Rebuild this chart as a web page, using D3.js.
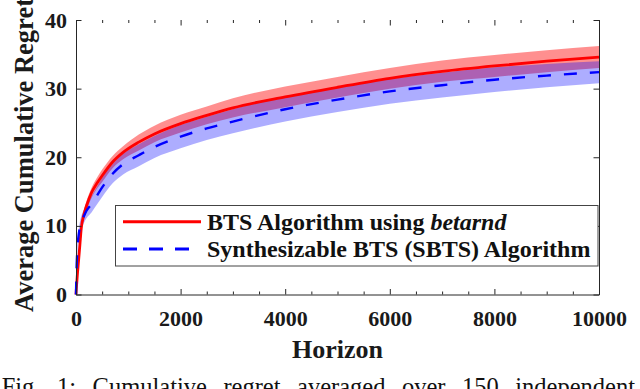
<!DOCTYPE html>
<html>
<head>
<meta charset="utf-8">
<script src="https://cdn.jsdelivr.net/npm/d3@7/dist/d3.min.js"></script>
<style>
  html, body { margin: 0; padding: 0; background: #fff; }
  svg { display: block; }
  text { font-family: "Liberation Serif", "Times New Roman", serif; }
</style>
</head>
<body>
<svg id="chart" width="640" height="389"></svg>
<script>
// ---------- data ----------
const horizon = [0, 10, 25, 50, 75, 100, 150, 200, 300, 400, 500, 700, 900, 1200, 1500, 2000, 2500, 3000, 4000, 5000, 6000, 7000, 8000, 9000, 10000];

const btsMean = [0, 1.2, 2.8, 5.0, 7.3, 9.6, 11.6, 12.9, 14.9, 16.2, 17.3, 19.3, 20.7, 22.2, 23.4, 24.9, 26.1, 27.2, 28.8, 30.2, 31.5, 32.5, 33.3, 34.0, 34.6];
const btsHi   = [0, 1.5, 3.2, 5.5, 7.9, 10.2, 12.3, 13.6, 15.6, 17.0, 18.2, 20.2, 21.6, 23.3, 24.6, 26.2, 27.4, 28.6, 30.3, 31.7, 33.0, 34.1, 34.9, 35.6, 36.2];
const btsLo   = [0, 0.9, 2.4, 4.5, 6.7, 9.0, 10.9, 12.2, 14.1, 15.4, 16.4, 18.4, 19.7, 21.0, 22.2, 23.6, 24.8, 25.8, 27.3, 28.7, 30.0, 31.0, 31.7, 32.4, 33.0];

const sbtsMean = [0, 3.5, 6.5, 8.6, 9.8, 10.5, 11.4, 12.2, 13.2, 14.4, 15.6, 17.6, 19.0, 20.3, 21.5, 23.0, 24.2, 25.2, 27.0, 28.4, 29.6, 30.5, 31.3, 31.9, 32.4];
const sbtsHi   = [0, 4.2, 7.3, 9.4, 10.6, 11.4, 12.4, 13.3, 14.4, 15.7, 17.0, 19.0, 20.5, 21.9, 23.1, 24.7, 25.9, 27.0, 28.8, 30.2, 31.4, 32.3, 33.1, 33.6, 34.0];
const sbtsLo   = [0, 2.8, 5.7, 7.8, 9.0, 9.6, 10.4, 11.1, 12.0, 13.1, 14.2, 16.2, 17.5, 18.7, 19.9, 21.3, 22.5, 23.5, 25.2, 26.6, 27.8, 28.7, 29.5, 30.2, 30.8];

const xTicks = [0, 2000, 4000, 6000, 8000, 10000];
const xMinorTicks = [0, 500, 1000, 1500, 2000, 2500, 3000, 3500, 4000, 4500, 5000, 5500, 6000, 6500, 7000, 7500, 8000, 8500, 9000, 9500, 10000];
const yTicks = [0, 10, 20, 30, 40];

const xLabel = "Horizon";
const yLabel = "Average Cumulative Regret";
const legendLabels = [["BTS Algorithm using ", "betarnd"], ["Synthesizable BTS (SBTS) Algorithm", ""]];
const captionWords = ["Fig.", "1:", "Cumulative", "regret", "averaged", "over", "150", "independent"];

// ---------- layout ----------
const svg = d3.select("#chart");
const x = d3.scaleLinear().domain([0, 10000]).range([76, 599]);
const y = d3.scaleLinear().domain([0, 40]).range([294.5, 20]);
const axisColor = "#262626";

const toRows = (m, lo, hi) => horizon.map((h, i) => ({ h, m: m[i], lo: lo[i], hi: hi[i] }));
const bts = toRows(btsMean, btsLo, btsHi);
const sbts = toRows(sbtsMean, sbtsLo, sbtsHi);

const area = d3.area().x(d => x(d.h)).y0(d => y(d.lo)).y1(d => y(d.hi)).curve(d3.curveMonotoneX);
const line = d3.line().x(d => x(d.h)).y(d => y(d.m)).curve(d3.curveMonotoneX);

// bands
svg.append("path").datum(bts).attr("d", area).attr("fill", "#ff0000").attr("fill-opacity", 0.44);
svg.append("path").datum(sbts).attr("d", area).attr("fill", "#0000ff").attr("fill-opacity", 0.32);
// lines
svg.append("path").datum(bts).attr("d", line).attr("fill", "none").attr("stroke", "#ff0000").attr("stroke-width", 2.8);
svg.append("path").datum(sbts).attr("d", line).attr("fill", "none").attr("stroke", "#0000ff").attr("stroke-width", 2.4).attr("stroke-dasharray", "13,13");

// axes
function styleAxis(g) {
  g.selectAll("path.domain").attr("stroke", axisColor).attr("stroke-width", 1);
  g.selectAll(".tick line").attr("stroke", axisColor).attr("stroke-width", 1);
  g.selectAll("text").attr("font-family", "Liberation Serif, serif").attr("font-weight", "bold").attr("font-size", 22).attr("fill", "#1a1a1a");
}
const minorOnly = xMinorTicks.filter(v => !xTicks.includes(v));
// bottom major (labels)
const gB = svg.append("g").attr("transform", `translate(0,${y(0)})`)
  .call(d3.axisBottom(x).tickValues(xTicks).tickSizeInner(-5.5).tickSizeOuter(0).tickPadding(16).tickFormat(d3.format("d")));
styleAxis(gB);
// bottom minor
const gBm = svg.append("g").attr("transform", `translate(0,${y(0)})`)
  .call(d3.axisBottom(x).tickValues(minorOnly).tickSizeInner(-3).tickSizeOuter(0).tickFormat(""));
styleAxis(gBm); gBm.select("path.domain").remove();
// top ticks (no line)
const gT = svg.append("g").attr("transform", `translate(0,${y(40)})`)
  .call(d3.axisTop(x).tickValues(xTicks).tickSizeInner(-5.5).tickSizeOuter(0).tickFormat(""));
styleAxis(gT); gT.select("path.domain").remove();
const gTm = svg.append("g").attr("transform", `translate(0,${y(40)})`)
  .call(d3.axisTop(x).tickValues(minorOnly).tickSizeInner(-3).tickSizeOuter(0).tickFormat(""));
styleAxis(gTm); gTm.select("path.domain").remove();
// left
const gL = svg.append("g").attr("transform", `translate(${x(0)},0)`)
  .call(d3.axisLeft(y).tickValues(yTicks).tickSizeInner(-5.5).tickSizeOuter(0).tickPadding(9).tickFormat(d3.format("d")));
styleAxis(gL);
// right
const gR = svg.append("g").attr("transform", `translate(${x(10000)},0)`)
  .call(d3.axisRight(y).tickValues(yTicks).tickSizeInner(-5.5).tickSizeOuter(0).tickFormat(""));
styleAxis(gR);

// axis labels
svg.append("text").attr("x", (x(0) + x(10000)) / 2).attr("y", 358).attr("text-anchor", "middle")
  .attr("font-weight", "bold").attr("font-size", 26).attr("fill", "#1a1a1a").text(xLabel);
svg.append("text").attr("transform", "translate(33,155) rotate(-90)").attr("text-anchor", "middle")
  .attr("font-weight", "bold").attr("font-size", 26.5).attr("fill", "#1a1a1a").text(yLabel);

// legend
const lg = svg.append("g");
lg.append("rect").attr("x", 115.5).attr("y", 205.5).attr("width", 482.5).attr("height", 60.5)
  .attr("fill", "#fff").attr("stroke", "#444").attr("stroke-width", 1);
const legendStyles = [
  { color: "#ff0000", dash: null, ly: 221.7, ty: 230 },
  { color: "#0000ff", dash: "14,12", ly: 249, ty: 257 }
];
legendLabels.forEach((lab, i) => {
  const s = legendStyles[i];
  lg.append("line").attr("x1", 123).attr("x2", i === 0 ? 201 : 190).attr("y1", s.ly).attr("y2", s.ly)
    .attr("stroke", s.color).attr("stroke-width", 3).attr("stroke-dasharray", s.dash);
  const t = lg.append("text").attr("x", 207).attr("y", s.ty).attr("font-weight", "bold").attr("font-size", 24).attr("fill", "#111");
  t.append("tspan").text(lab[0]);
  if (lab[1]) t.append("tspan").attr("font-style", "italic").text(lab[1]);
});

// caption (justified words, cut off at the bottom edge as in the reference)
const capG = svg.append("g");
const capStart = 1.7, capEnd = 635;
const wordNodes = captionWords.map(w => capG.append("text").attr("y", 394.5).attr("font-size", 24.5).attr("fill", "#111").text(w));
const widths = wordNodes.map(n => n.node().getComputedTextLength());
const totalW = d3.sum(widths);
const gap = (capEnd - capStart - totalW) / (captionWords.length - 1);
let cx = capStart;
wordNodes.forEach((n, i) => { n.attr("x", cx); cx += widths[i] + gap; });
</script>
</body>
</html>
